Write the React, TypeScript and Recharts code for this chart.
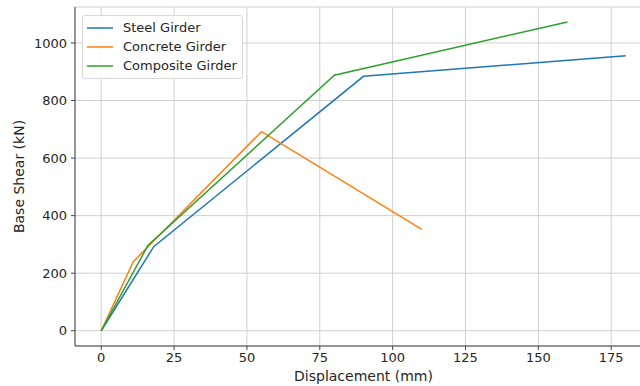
import { LineChart, Line, XAxis, YAxis, CartesianGrid } from "recharts";

const steelX = [0, 18, 90, 180];
const steelY = [0, 292, 884, 956];
const concreteX = [0, 11, 55, 110];
const concreteY = [0, 240, 692, 352];
const compositeX = [0, 16, 80, 160];
const compositeY = [0, 296, 888, 1073];

const xTicks = [0, 25, 50, 75, 100, 125, 150, 175];
const yTicks = [0, 200, 400, 600, 800, 1000];

const toPoints = (xs: number[], ys: number[]) => xs.map((x, i) => ({ x, y: ys[i] }));

const series = [
  { name: "Steel Girder", color: "#1f77b4", data: toPoints(steelX, steelY) },
  { name: "Concrete Girder", color: "#ff7f0e", data: toPoints(concreteX, concreteY) },
  { name: "Composite Girder", color: "#2ca02c", data: toPoints(compositeX, compositeY) },
];

const font = "'DejaVu Sans', sans-serif";

function LegendBox() {
  return (
    <div
      style={{
        position: "absolute",
        left: 82,
        top: 15,
        border: "1px solid #d8d8d8",
        borderRadius: 3,
        background: "rgba(255,255,255,0.9)",
        padding: "2px 5px 3px 4px",
        fontFamily: font,
        fontSize: 13,
        color: "#262626",
      }}
    >
      {series.map((s) => (
        <div key={s.name} style={{ display: "flex", alignItems: "center", height: 19 }}>
          <svg width={26} height={4} style={{ marginRight: 10 }}>
            <line x1={0} y1={2} x2={26} y2={2} stroke={s.color} strokeWidth={1.5} />
          </svg>
          <span>{s.name}</span>
        </div>
      ))}
    </div>
  );
}

export default function App() {
  return (
    <div style={{ position: "absolute", left: 0, top: 0, width: 640, height: 386, overflow: "hidden", background: "#fff" }}>
      <LineChart width={660} height={386} margin={{ top: 7, right: 8, left: 0, bottom: 0 }}>
        <CartesianGrid stroke="#d0d0d0" strokeWidth={1} />
        <XAxis
          type="number"
          dataKey="x"
          domain={[-9, 189]}
          ticks={xTicks}
          allowDataOverflow
          height={40}
          tick={{ fill: "#262626", fontSize: 13, fontFamily: font }}
          tickSize={4}
          tickMargin={3}
          axisLine={{ stroke: "#444" }}
          tickLine={{ stroke: "#444" }}
          label={{ value: "Displacement (mm)", position: "insideBottom", offset: 5, fill: "#262626", fontSize: 14, fontFamily: font }}
        />
        <XAxis
          xAxisId="top"
          orientation="top"
          type="number"
          domain={[-9, 189]}
          height={0}
          tick={false}
          tickLine={false}
          axisLine={{ stroke: "#444" }}
        />
        <YAxis
          type="number"
          dataKey="y"
          domain={[-53, 1125]}
          ticks={yTicks}
          allowDataOverflow
          width={75}
          tick={{ fill: "#262626", fontSize: 13, fontFamily: font }}
          tickSize={4}
          tickMargin={4}
          axisLine={{ stroke: "#444" }}
          tickLine={{ stroke: "#444" }}
          label={{ value: "Base Shear (kN)", angle: -90, position: "insideLeft", offset: 19, fill: "#262626", fontSize: 14, fontFamily: font, style: { textAnchor: "middle" } }}
        />
        {series.map((s) => (
          <Line
            key={s.name}
            data={s.data}
            dataKey="y"
            name={s.name}
            stroke={s.color}
            strokeWidth={1.5}
            dot={false}
            isAnimationActive={false}
          />
        ))}
      </LineChart>
      <LegendBox />
    </div>
  );
}
